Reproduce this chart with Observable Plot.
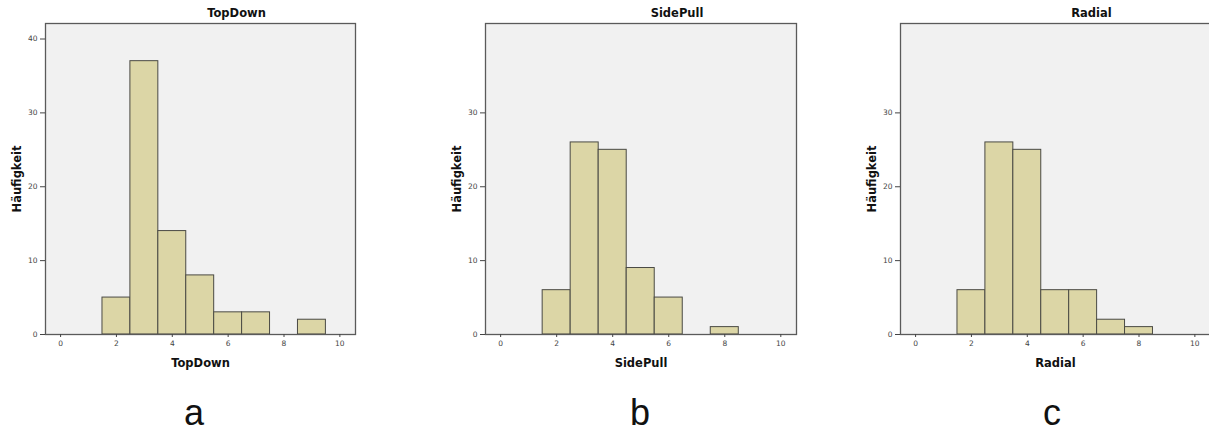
<!DOCTYPE html>
<html>
<head>
<meta charset="utf-8">
<script src="https://cdn.jsdelivr.net/npm/d3@7"></script>
<script src="https://cdn.jsdelivr.net/npm/@observablehq/plot@0.6"></script>
<style>
  html, body { margin: 0; padding: 0; background: #fff; overflow: hidden; }
  #root { position: relative; width: 1209px; height: 434px; overflow: hidden; }
  .letter { position: absolute; top: 395px; width: 60px; margin-left: -30px; text-align: center;
            font-family: "Liberation Sans", Arial, sans-serif; font-size: 36px; line-height: 36px; color: #111; }
</style>
</head>
<body>
<div id="root"></div>
<script>
// ---- data ----
const titles = ["TopDown", "SidePull", "Radial"];
const yLabel = "Häufigkeit";
const panelLetters = ["a", "b", "c"];
const xTicks = [0, 2, 4, 6, 8, 10];
const yTicksA = [0, 10, 20, 30, 40];
const yTicksBC = [0, 10, 20, 30];
// bin centres (bin width 1) and counts
const topDownX = [2, 3, 4, 5, 6, 7, 9];
const topDownCount = [5, 37, 14, 8, 3, 3, 2];
const sidePullX = [2, 3, 4, 5, 6, 8];
const sidePullCount = [6, 26, 25, 9, 5, 1];
const radialX = [2, 3, 4, 5, 6, 7, 8];
const radialCount = [6, 26, 25, 6, 6, 2, 1];

const panels = [
  {title: titles[0], xs: topDownX, ys: topDownCount, yTicks: yTicksA, left: 0, marginLeft: 45, width: 375, letterX: 194},
  {title: titles[1], xs: sidePullX, ys: sidePullCount, yTicks: yTicksBC, left: 420, marginLeft: 65, width: 396, letterX: 640},
  {title: titles[2], xs: radialX, ys: radialCount, yTicks: yTicksBC, left: 840, marginLeft: 60, width: 390, letterX: 1052}
];

const root = document.getElementById("root");
const font = "'DejaVu Sans', Verdana, sans-serif";

panels.forEach((p, idx) => {
  const data = p.xs.map((x, i) => ({x, count: p.ys[i]}));
  const chart = Plot.plot({
    width: p.width,
    height: 375,
    marginLeft: p.marginLeft,
    marginRight: 20,
    marginTop: 23,
    marginBottom: 41,
    style: {fontFamily: font, fontSize: "7.5px", color: "#444", background: "transparent"},
    x: {domain: [-0.54, 10.56], ticks: xTicks},
    y: {domain: [0, 42.1], ticks: p.yTicks},
    marks: [
      Plot.frame({fill: "#f1f1f1", stroke: null}),
      Plot.rectY(data, {x1: d => d.x - 0.5, x2: d => d.x + 0.5, y: "count", fill: "#dcd6a6", stroke: "#4a4a44", strokeWidth: 1}),
      Plot.frame({stroke: "#5a5a5a", strokeWidth: 1.3}),
      Plot.axisX({ticks: xTicks, tickSize: 3, tickPadding: 3, label: p.title, labelAnchor: "center", labelArrow: "none", labelOffset: 32}),
      Plot.axisY({ticks: p.yTicks, tickSize: 5, tickPadding: 3, label: yLabel, labelAnchor: "center", labelArrow: "none", labelOffset: 33}),
      Plot.text([p.title], {frameAnchor: "top", dy: -10, dx: 36, text: d => d, fontWeight: "bold", fontSize: 11.5, fill: "#111", lineAnchor: "middle"})
    ]
  });
  chart.style.position = "absolute";
  chart.style.left = p.left + "px";
  chart.style.top = "0px";
  chart.querySelectorAll("g[aria-label='x-axis label'] text, g[aria-label='y-axis label'] text").forEach(t => {
    t.setAttribute("font-weight", "bold");
    t.setAttribute("font-size", "11.5");
    t.setAttribute("fill", "#111");
  });
  root.appendChild(chart);
  const letter = document.createElement("div");
  letter.className = "letter";
  letter.style.left = p.letterX + "px";
  letter.textContent = panelLetters[idx];
  root.appendChild(letter);
});
</script>
</body>
</html>
